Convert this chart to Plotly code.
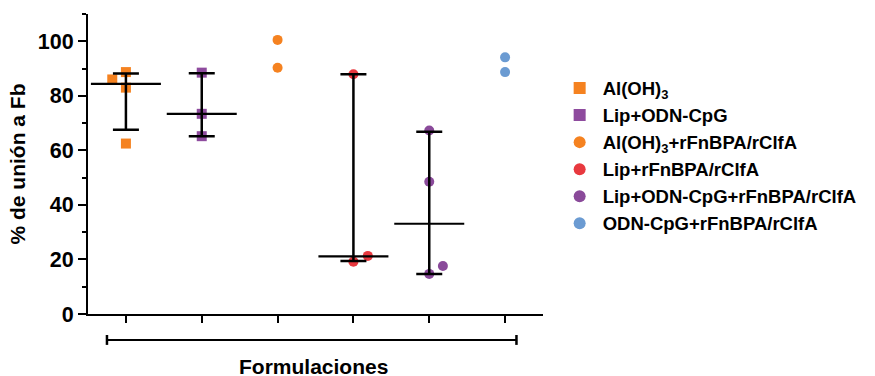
import numpy as np
import plotly.graph_objects as go

# ---------------- data ----------------
series_names = [
    "Al(OH)<sub>3</sub>",
    "Lip+ODN-CpG",
    "Al(OH)<sub>3</sub>+rFnBPA/rClfA",
    "Lip+rFnBPA/rClfA",
    "Lip+ODN-CpG+rFnBPA/rClfA",
    "ODN-CpG+rFnBPA/rClfA",
]
values_aloh3 = [86.0, 88.7, 83.0, 62.5]
values_lip_cpg = [88.5, 73.4, 65.2]
values_aloh3_prot = [100.5, 90.3]
values_lip_prot = [87.9, 19.2, 21.3]
values_lip_cpg_prot = [67.3, 48.5, 17.6, 14.7]
values_cpg_prot = [94.1, 88.7]

# median and interquartile range (only shown for groups 1, 2, 4, 5)
summary_groups = [0, 1, 3, 4]
summary_median = [84.4, 73.4, 21.1, 33.1]
summary_q1 = [67.6, 65.2, 19.4, 14.7]
summary_q3 = [88.2, 88.3, 87.9, 66.8]

y_ticks = [0, 20, 40, 60, 80, 100]
y_title = "% de unión a Fb"
x_title = "Formulaciones"

# ---------------- style ----------------
all_values = [values_aloh3, values_lip_cpg, values_aloh3_prot,
              values_lip_prot, values_lip_cpg_prot, values_cpg_prot]
colors = ["#F58220", "#8E4B9E", "#F58220", "#E8393F", "#8A4A9A", "#6B9BD2"]
symbols = ["square", "square", "circle", "circle", "circle", "circle"]
# horizontal jitter of overlapping points (category units)
jitter = [[-0.18, 0, 0, 0], [0, 0, 0], [0, 0], [0, 0, 0.19],
          [0, 0, 0.18, 0], [0, 0]]

FONT = "Liberation Sans, Arial, Helvetica, sans-serif"

fig = go.Figure()
for i, (name, vals) in enumerate(zip(series_names, all_values)):
    xs = [i + j for j in jitter[i]]
    fig.add_trace(go.Scatter(
        x=xs, y=vals, mode="markers", name=name,
        marker=dict(symbol=symbols[i], color=colors[i], size=10,
                    line=dict(width=0)),
    ))

med = np.array(summary_median)
fig.add_trace(go.Scatter(
    x=summary_groups, y=summary_median, mode="markers", showlegend=False,
    marker=dict(symbol="line-ew-open", size=50, color="black",
                line=dict(color="black", width=2.2)),
    error_y=dict(type="data", symmetric=False,
                 array=list(np.array(summary_q3) - med),
                 arrayminus=list(med - np.array(summary_q1)),
                 width=13, thickness=2.5, color="black"),
    hoverinfo="skip",
))

fig.update_layout(
    width=875, height=376,
    margin=dict(l=88, r=332, t=14, b=62, autoexpand=False),
    plot_bgcolor="white", paper_bgcolor="white",
    font=dict(family=FONT, color="black"),
    showlegend=True,
    legend=dict(x=1.03, y=0.815, xanchor="left", yanchor="top",
                font=dict(family=FONT, size=18.5, color="black", weight="bold"),
                tracegroupgap=0, itemsizing="constant", itemwidth=36,
                bgcolor="rgba(0,0,0,0)"),
)

fig.update_xaxes(
    range=[-0.5, 5.5], tickvals=list(range(6)), ticktext=[""] * 6,
    showgrid=False, zeroline=False, showline=True, linecolor="black",
    linewidth=2.2, ticks="outside", ticklen=7, tickwidth=2, tickcolor="black",
)
fig.update_yaxes(
    range=[0, 110], tickvals=y_ticks, showgrid=False, zeroline=False,
    showline=True, linecolor="black", linewidth=2.2,
    ticks="outside", ticklen=8, tickwidth=2, tickcolor="black",
    tickfont=dict(family=FONT, size=21.5, color="black", weight="bold"),
    minor=dict(tickvals=[10, 30, 50, 70, 90, 110], ticks="outside",
               ticklen=4, tickwidth=2, tickcolor="black"),
    title=dict(text=y_title, standoff=6,
               font=dict(family=FONT, size=21, color="black", weight="bold")),
)

# bracket under x axis
fig.add_shape(type="line", xref="x", yref="paper", x0=-0.25, x1=5.15,
              y0=-0.087, y1=-0.087, line=dict(color="black", width=2))
for xb in (-0.25, 5.15):
    fig.add_shape(type="line", xref="x", yref="paper", x0=xb, x1=xb,
                  y0=-0.07, y1=-0.103, line=dict(color="black", width=2.5))

fig.add_annotation(text=x_title, xref="paper", yref="paper", x=0.496,
                   y=-0.175, xanchor="center", yanchor="middle",
                   showarrow=False,
                   font=dict(family=FONT, size=21, color="black", weight="bold"))

fig.write_html("out.html")
